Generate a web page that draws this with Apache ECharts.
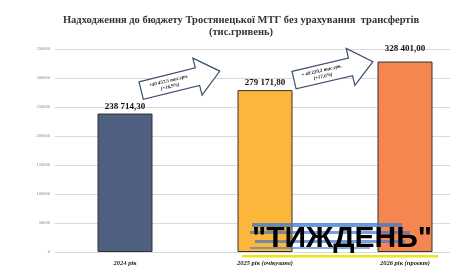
<!DOCTYPE html>
<html><head><meta charset="utf-8">
<script src="https://cdn.jsdelivr.net/npm/echarts@6/dist/echarts.min.js"></script>
<style>html,body{margin:0;padding:0;background:#fff}#c{width:450px;height:276px}</style>
</head><body><div id="c"></div>
<script>
const categories = ['2024 рік', '2025 рік (очікуване)', '2026 рік (проєкт)'];
const values = [238714.30, 279171.80, 328401.00];
const valueLabels = ['238 714,30', '279 171,80', '328 401,00'];
const barColors = ['#4e5f80', '#fbb63b', '#f5864f'];
const labelDistances = [2, 3, 8];
const arrowTexts = ['+40 457,5 тис.грн.\n(+16,9%)', '+ 49 229,2 тис.грн.\n(+17,6%)'];
const titleText = 'Надходження до бюджету Тростянецької МТГ без урахування  трансфертів\n(тис.гривень)';

const chart = echarts.init(document.getElementById('c'));
function arrow(x, y, rot, text) {
  return {
    type: 'group', x: x, y: y, rotation: rot, z: 50,
    children: [
      { type: 'polygon', z: 50, shape: { points: [[-40,-9],[18,-9],[18,-19],[41,0],[18,19],[18,9],[-40,9]] },
        style: { fill: '#fff', stroke: '#3c4d6e', lineWidth: 1.2 } },
      { type: 'text', z: 51, x: -11, y: 0, style: { text: text, fontFamily: 'Liberation Serif', fontSize: 5, fontWeight: 'bold', fontStyle: 'italic',
        align: 'center', verticalAlign: 'middle', lineHeight: 6, fill: '#111' } }
    ]
  };
}
chart.setOption({
  animation: false,
  title: { text: titleText, left: 236, top: 9, textAlign: 'center',
    textStyle: { fontFamily: 'Liberation Serif', fontSize: 10.5, fontWeight: 'bold', color: '#333', lineHeight: 12 } },
  grid: { left: 55, width: 420, top: 49, bottom: 24, outerBoundsMode: 'none', containLabel: false },
  xAxis: { type: 'category', data: categories,
    axisLine: { show: false }, axisTick: { show: false },
    axisLabel: { margin: 8, fontFamily: 'Liberation Serif', fontSize: 6.5, fontWeight: 'bold', fontStyle: 'italic', color: '#222' } },
  yAxis: { type: 'value', min: 0, max: 350000, interval: 50000,
    axisLine: { show: false }, axisTick: { show: false },
    axisLabel: { margin: 5, fontFamily: 'Liberation Serif', fontSize: 4.5, color: '#888', formatter: v => String(v) },
    splitLine: { lineStyle: { color: '#d9d9d9', width: 1 } } },
  series: [{
    type: 'bar', barWidth: 55,
    data: values.map((v, i) => ({ value: v,
      itemStyle: { color: barColors[i], borderColor: '#333', borderWidth: 1 },
      label: { show: true, position: 'top', distance: labelDistances[i], formatter: valueLabels[i],
        fontFamily: 'Liberation Serif', fontSize: 9, fontWeight: 'bold', color: '#111' } }))
  }],
  graphic: [
    arrow(180, 81, 0.244, arrowTexts[0]),
    arrow(333, 71, 0.23, arrowTexts[1]),
    { type: 'group', z: 100, children: [
      { type: 'rect', z: 100, shape: { x: 252, y: 223, width: 150, height: 4 }, style: { fill: 'rgba(58,120,210,0.75)' } },
      { type: 'rect', z: 100, shape: { x: 250, y: 231, width: 160, height: 3 }, style: { fill: 'rgba(58,120,210,0.7)' } },
      { type: 'rect', z: 100, shape: { x: 255, y: 240, width: 150, height: 3 }, style: { fill: 'rgba(58,120,210,0.7)' } },
      { type: 'rect', z: 100, shape: { x: 250, y: 247, width: 120, height: 2 }, style: { fill: 'rgba(58,120,210,0.6)' } },
      { type: 'rect', z: 100, shape: { x: 242, y: 255, width: 196, height: 2.5 }, style: { fill: '#f2e21c' } },
      { type: 'text', z: 101, x: 342, y: 239, style: { text: '"ТИЖДЕНЬ"', fontFamily: 'Liberation Sans', fontSize: 30, fontWeight: 'bold',
        align: 'center', verticalAlign: 'middle', fill: '#000' } }
    ]}
  ]
});
</script></body></html>
